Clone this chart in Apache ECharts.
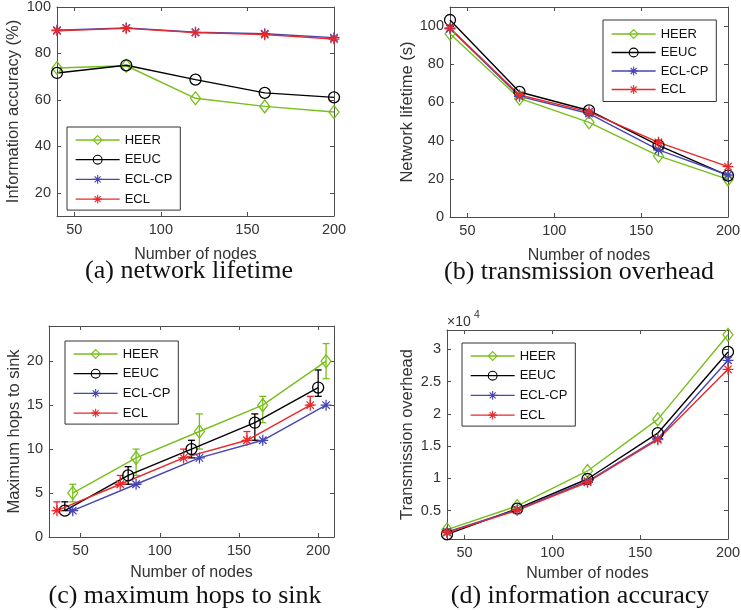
<!DOCTYPE html>
<html><head><meta charset="utf-8">
<script src="https://cdn.jsdelivr.net/npm/echarts@6/dist/echarts.min.js"></script>
<style>html,body{margin:0;padding:0;background:#fff}#c{width:741px;height:610px}</style>
</head><body><div id="c"></div>
<script>
// ---------- data ----------
const seriesNames = ['HEER', 'EEUC', 'ECL-CP', 'ECL'];
const nodes = [40, 80, 120, 160, 200];

// (a) information accuracy (%)
const accHEER  = [73.7, 74.7, 60.7, 57.2, 54.8];
const accEEUC  = [71.6, 74.9, 68.7, 63.0, 61.1];
const accECLCP = [90.0, 91.0, 89.1, 88.5, 86.8];
const accECL   = [89.8, 90.8, 89.0, 88.1, 86.2];

// (b) network lifetime (s)
const lifeHEER  = [96.0, 62.1, 49.6, 32.0, 19.7];
const lifeEEUC  = [103.2, 65.5, 55.8, 37.5, 21.7];
const lifeECLCP = [98.6, 63.2, 54.2, 35.2, 22.0];
const lifeECL   = [99.0, 63.9, 55.1, 39.1, 26.4];

// (c) maximum hops to sink (x positions are offset per series)
const hopsXHEER  = [45, 85, 125, 165, 205];
const hopsXEEUC  = [40, 80, 120, 160, 200];
const hopsXECLCP = [45, 85, 125, 165, 205];
const hopsXECL   = [35, 75, 115, 155, 195];
const hopsHEER   = [5, 9, 12, 15, 20];
const hopsHEERLo = [4, 7, 10, 13, 18];
const hopsHEERHi = [6, 10, 14, 16, 22];
const hopsEEUC   = [3, 7, 10, 13, 17];
const hopsEEUCLo = [3, 6, 9, 11, 16];
const hopsEEUCHi = [4, 8, 11, 14, 19];
const hopsECLCP  = [3, 6, 9, 11, 15];
const hopsECL    = [3, 6, 9, 11, 15];
const hopsECLLo  = [3, 6, 9, 11, 15];
const hopsECLHi  = [4, 7, 10, 12, 16];

// (d) transmission overhead
const overHEER  = [2060, 5720, 11150, 19150, 32270];
const overEEUC  = [1330, 5310, 9900, 17000, 29600];
const overECLCP = [1700, 5150, 9550, 16150, 28300];
const overECL   = [1600, 5050, 9400, 16000, 26900];

// ticks
const xTicks   = [50, 100, 150, 200];
const yTicksA  = [20, 40, 60, 80, 100];
const yTicksB  = [0, 20, 40, 60, 80, 100];
const yTicksC  = [0, 5, 10, 15, 20];
const yTicksD  = [5000, 10000, 15000, 20000, 25000, 30000];

// ---------- styles ----------
const COL = { 'HEER': '#77bf1a', 'EEUC': '#000000', 'ECL-CP': '#4646b4', 'ECL': '#e8282a' };
const AST = 'path://M0,5L10,5M5,0L5,10M1.6,1.6L8.4,8.4M8.4,1.6L1.6,8.4';
const CIRC = 'path://M10,5A5,5,0,1,1,0,5A5,5,0,1,1,10,5Z';
const DIAM = 'path://M5,0L10,6.5L5,13L0,6.5Z';
const SYM = { 'HEER': DIAM, 'EEUC': CIRC, 'ECL-CP': AST, 'ECL': AST };
const SYMSIZE = { 'HEER': [10, 13], 'EEUC': 11, 'ECL-CP': 11, 'ECL': 11 };
const AXC = '#4d4d4d', TXC = '#333333';
const SANS = 'Liberation Sans, Arial, sans-serif';

const grids = [
  { left: 57, top: 7, width: 277, height: 209 },
  { left: 450, top: 7, width: 278, height: 210 },
  { left: 49, top: 326, width: 285, height: 211 },
  { left: 447, top: 330, width: 281, height: 209 }
].map(g => Object.assign({ outerBoundsMode: 'none', containLabel: false }, g));

function xAxes(gi, min, max, ticks, gap) {
  const base = {
    type: 'value', gridIndex: gi, min: min, max: max,
    axisLine: { show: true, onZero: false, lineStyle: { color: AXC, width: 1 } },
    axisTick: { show: true, inside: true, length: 4, customValues: ticks, lineStyle: { color: AXC } },
    splitLine: { show: false }
  };
  return [
    Object.assign({}, base, {
      position: 'bottom', name: 'Number of nodes', nameLocation: 'middle', nameGap: gap,
      nameTextStyle: { fontFamily: SANS, fontSize: 16, color: TXC },
      axisLabel: { show: true, customValues: ticks, margin: 6, fontFamily: SANS, fontSize: 14.5, color: TXC }
    }),
    Object.assign({}, base, { position: 'top', axisLabel: { show: false } })
  ];
}
function yAxes(gi, min, max, ticks, name, gap, fmt) {
  const base = {
    type: 'value', gridIndex: gi, min: min, max: max,
    axisLine: { show: true, onZero: false, lineStyle: { color: AXC, width: 1 } },
    axisTick: { show: true, inside: true, length: 4, customValues: ticks, lineStyle: { color: AXC } },
    splitLine: { show: false }
  };
  return [
    Object.assign({}, base, {
      position: 'left', name: name, nameLocation: 'middle', nameGap: gap, nameRotate: 90,
      nameTextStyle: { fontFamily: SANS, fontSize: 16.5, color: TXC },
      axisLabel: { show: true, customValues: ticks, margin: 6, fontFamily: SANS, fontSize: 14.5, color: TXC,
                   formatter: fmt || (v => String(v)) }
    }),
    Object.assign({}, base, { position: 'right', axisLabel: { show: false } })
  ];
}

const xAxis = [].concat(
  xAxes(0, 40, 200, xTicks, 31),
  xAxes(1, 40, 200, xTicks, 31),
  xAxes(2, 30, 210, xTicks, 28),
  xAxes(3, 40, 200, xTicks, 27)
);
const yAxis = [].concat(
  yAxes(0, 10, 100, yTicksA, 'Information accuracy (%)', 35),
  yAxes(1, 0, 110, yTicksB, 'Network lifetime (s)', 34),
  yAxes(2, 0, 24, yTicksC, 'Maximum hops to sink', 25),
  yAxes(3, 600, 33000, yTicksD, 'Transmission overhead', 31, v => String(v / 10000))
);

function lineSeries(name, gi, xs, ys) {
  return {
    type: 'line', name: name, xAxisIndex: gi * 2, yAxisIndex: gi * 2,
    data: xs.map((x, i) => [x, ys[i]]),
    symbol: SYM[name], symbolSize: SYMSIZE[name], showSymbol: true,
    lineStyle: { color: COL[name], width: 1.4 },
    itemStyle: { color: 'rgba(0,0,0,0)', borderColor: COL[name], borderWidth: 1.3 },
    emphasis: { disabled: true }, animation: false, z: 3
  };
}
function errSeries(name, gi, xs, lo, hi) {
  return {
    type: 'custom', xAxisIndex: gi * 2, yAxisIndex: gi * 2,
    data: xs.map((x, i) => [x, lo[i], hi[i]]),
    renderItem: function (params, api) {
      const x = api.value(0);
      const p1 = api.coord([x, api.value(1)]);
      const p2 = api.coord([x, api.value(2)]);
      const w = 3.5;
      const st = { stroke: COL[name], lineWidth: 1.3 };
      return { type: 'group', children: [
        { type: 'line', shape: { x1: p1[0], y1: p1[1], x2: p2[0], y2: p2[1] }, style: st },
        { type: 'line', shape: { x1: p1[0] - w, y1: p1[1], x2: p1[0] + w, y2: p1[1] }, style: st },
        { type: 'line', shape: { x1: p2[0] - w, y1: p2[1], x2: p2[0] + w, y2: p2[1] }, style: st }
      ] };
    },
    silent: true, animation: false, z: 2
  };
}

const series = [
  lineSeries('HEER', 0, nodes, accHEER),
  lineSeries('EEUC', 0, nodes, accEEUC),
  lineSeries('ECL-CP', 0, nodes, accECLCP),
  lineSeries('ECL', 0, nodes, accECL),
  lineSeries('HEER', 1, nodes, lifeHEER),
  lineSeries('EEUC', 1, nodes, lifeEEUC),
  lineSeries('ECL-CP', 1, nodes, lifeECLCP),
  lineSeries('ECL', 1, nodes, lifeECL),
  errSeries('HEER', 2, hopsXHEER, hopsHEERLo, hopsHEERHi),
  lineSeries('HEER', 2, hopsXHEER, hopsHEER),
  errSeries('EEUC', 2, hopsXEEUC, hopsEEUCLo, hopsEEUCHi),
  lineSeries('EEUC', 2, hopsXEEUC, hopsEEUC),
  lineSeries('ECL-CP', 2, hopsXECLCP, hopsECLCP),
  errSeries('ECL', 2, hopsXECL, hopsECLLo, hopsECLHi),
  lineSeries('ECL', 2, hopsXECL, hopsECL),
  lineSeries('HEER', 3, nodes, overHEER),
  lineSeries('EEUC', 3, nodes, overEEUC),
  lineSeries('ECL-CP', 3, nodes, overECLCP),
  lineSeries('ECL', 3, nodes, overECL)
];

function legend(left, top, gap, pad) {
  return {
    data: seriesNames, left: left, top: top, orient: 'vertical',
    itemWidth: 44, itemHeight: 11, itemGap: gap,
    padding: pad,
    borderColor: '#333', borderWidth: 1, backgroundColor: '#fff',
    selectedMode: false,
    itemStyle: { borderWidth: 1.1 },
    lineStyle: { width: 1.3 },
    textStyle: { fontFamily: SANS, fontSize: 13, color: '#111', lineHeight: 14 }
  };
}

const capStyle = { fontFamily: 'Liberation Serif, Times New Roman, serif', fontSize: 26, fill: '#111', textAlign: 'center', textVerticalAlign: 'middle' };
const option = {
  backgroundColor: '#fff',
  animation: false,
  grid: grids,
  xAxis: xAxis,
  yAxis: yAxis,
  legend: [
    legend(67, 127, 5.7, [6, 8, 4, 8]),
    legend(603, 20, 4.5, [7, 8, 5, 8]),
    legend(65, 341, 5.7, [6, 8, 4, 8]),
    legend(462, 343, 5.7, [6, 8, 4, 8])
  ],
  series: series,
  graphic: [
    { type: 'text', x: 189, y: 271, style: Object.assign({ text: '(a) network lifetime' }, capStyle) },
    { type: 'text', x: 579, y: 272, style: Object.assign({ text: '(b) transmission overhead' }, capStyle) },
    { type: 'text', x: 185, y: 596, style: Object.assign({ text: '(c) maximum hops to sink' }, capStyle) },
    { type: 'text', x: 580, y: 596, style: Object.assign({ text: '(d) information accuracy' }, capStyle) },
    { type: 'text', x: 447, y: 322, style: { text: '×10', fontFamily: SANS, fontSize: 14, fill: TXC, textVerticalAlign: 'middle' } },
    { type: 'text', x: 474, y: 315, style: { text: '4', fontFamily: SANS, fontSize: 10.5, fill: TXC, textVerticalAlign: 'middle' } }
  ]
};

const chart = echarts.init(document.getElementById('c'), null, { renderer: 'canvas' });
chart.setOption(option);
</script>
</body></html>
